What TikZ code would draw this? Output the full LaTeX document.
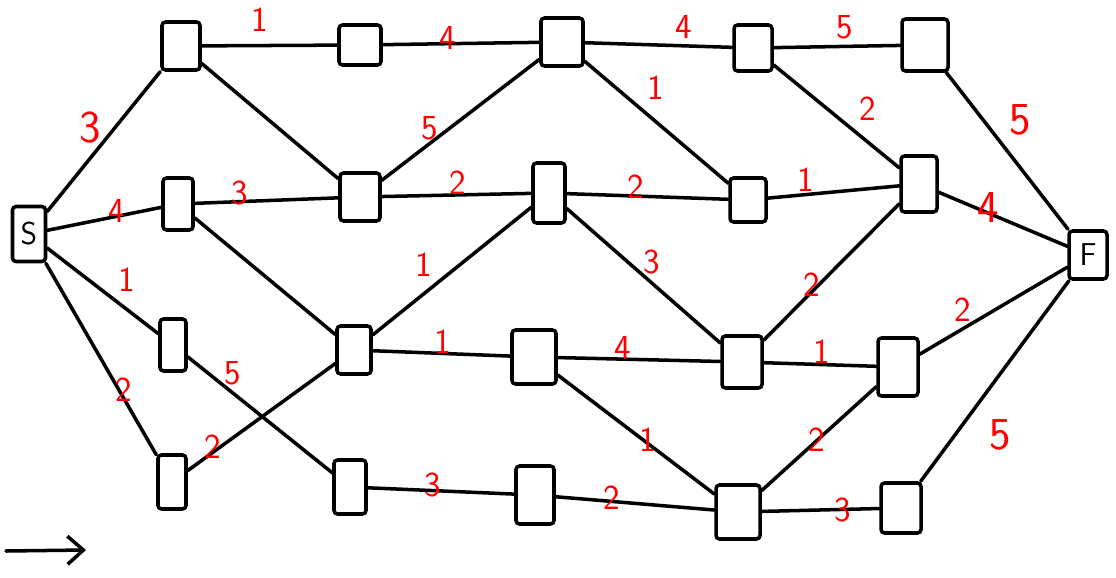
\documentclass[tikz,border=0pt]{standalone}
\usetikzlibrary{arrows.meta}
\begin{document}
\begin{tikzpicture}[x=0.02cm,y=-0.02cm,
  box/.style 2 args={draw, line width=2pt, rounded corners=2pt, inner sep=0pt,
     minimum width=#1*0.02cm, minimum height=#2*0.02cm, font=\sffamily\fontsize{18}{20}\selectfont},
  edge/.style={line width=2pt, line cap=round},
  lbl/.style={text=red, font=\sffamily\fontsize{20}{22}\selectfont, inner sep=0pt},
  biglbl/.style={text=red, font=\sffamily\fontsize{26}{28}\selectfont, inner sep=0pt}]
\useasboundingbox (0,0) rectangle (1116,578);
% nodes
\node[box={33}{55}] (S) at (29,234) {S};
\node[box={38}{48}] (A1) at (181,46) {};
\node[box={42}{40}] (A2) at (360,45) {};
\node[box={42}{48}] (A3) at (562,42) {};
\node[box={38}{46}] (A4) at (753,48) {};
\node[box={46}{52}] (A5) at (925,45) {};
\node[box={30}{52}] (B1) at (178,204) {};
\node[box={40}{48}] (B2) at (360,197) {};
\node[box={32}{60}] (B3) at (549,193) {};
\node[box={36}{44}] (B4) at (748,200) {};
\node[box={36}{56}] (B5) at (919,184) {};
\node[box={26}{52}] (C1) at (173,345) {};
\node[box={34}{48}] (C2) at (354,350) {};
\node[box={44}{54}] (C3) at (534,357) {};
\node[box={40}{52}] (C4) at (742,362) {};
\node[box={40}{58}] (C5) at (898,367) {};
\node[box={28}{54}] (D1) at (172,482) {};
\node[box={32}{54}] (D2) at (350,487) {};
\node[box={38}{58}] (D3) at (535,495) {};
\node[box={44}{54}] (D4) at (738,512) {};
\node[box={40}{50}] (D5) at (901,508) {};
\node[box={38}{48}] (F) at (1088,255) {F};
% edges
\draw[edge] (S) -- (A1);
\draw[edge] (S) -- (B1);
\draw[edge] (S) -- (C1);
\draw[edge] (S) -- (D1);
\draw[edge] (A1) -- (A2);
\draw[edge] (A2) -- (A3);
\draw[edge] (A3) -- (A4);
\draw[edge] (A4) -- (A5);
\draw[edge] (A5) -- (F);
\draw[edge] (A1) -- (B2);
\draw[edge] (B1) -- (B2);
\draw[edge] (B2) -- (A3);
\draw[edge] (B2) -- (B3);
\draw[edge] (A3) -- (B4);
\draw[edge] (B3) -- (B4);
\draw[edge] (A4) -- (B5);
\draw[edge] (B4) -- (B5);
\draw[edge] (B5) -- (F);
\draw[edge] (B1) -- (C2);
\draw[edge] (C2) -- (B3);
\draw[edge] (B3) -- (C4);
\draw[edge] (C4) -- (B5);
\draw[edge] (C2) -- (C3);
\draw[edge] (C3) -- (C4);
\draw[edge] (C4) -- (C5);
\draw[edge] (C5) -- (F);
\draw[edge] (C1) -- (D2);
\draw[edge] (D1) -- (C2);
\draw[edge] (D2) -- (D3);
\draw[edge] (D3) -- (D4);
\draw[edge] (C3) -- (D4);
\draw[edge] (D4) -- (C5);
\draw[edge] (D4) -- (D5);
\draw[edge] (D5) -- (F);
% labels
\node[biglbl] (l1) at (90,128) {3};
\node[lbl] (l2) at (117,211) {4};
\node[lbl] (l3) at (127,280) {1};
\node[lbl] (l4) at (124,390) {2};
\node[lbl] (l5) at (260,20) {1};
\node[lbl] (l6) at (448,38) {4};
\node[lbl] (l7) at (684,27) {4};
\node[lbl] (l8) at (845,27) {5};
\node[biglbl] (l9) at (1020,120) {5};
\node[lbl] (l10) at (240,193) {3};
\node[lbl] (l11) at (430,128) {5};
\node[lbl] (l12) at (458,183) {2};
\node[lbl] (l13) at (656,88) {1};
\node[lbl] (l14) at (636,187) {2};
\node[lbl] (l15) at (868,109) {2};
\node[lbl] (l16) at (806,180) {1};
\node[biglbl] (l17) at (988,208) {4};
\node[lbl] (l18) at (424,265) {1};
\node[lbl] (l19) at (652,262) {3};
\node[lbl] (l20) at (812,285) {2};
\node[lbl] (l21) at (443,342) {1};
\node[lbl] (l22) at (623,348) {4};
\node[lbl] (l23) at (822,352) {1};
\node[lbl] (l24) at (963,310) {2};
\node[lbl] (l25) at (233,373) {5};
\node[lbl] (l26) at (213,447) {2};
\node[lbl] (l27) at (433,485) {3};
\node[lbl] (l28) at (612,498) {2};
\node[lbl] (l29) at (648,440) {1};
\node[lbl] (l30) at (817,440) {2};
\node[lbl] (l31) at (843,510) {3};
\node[biglbl] (l32) at (1000,435) {5};
% arrow
\coordinate (ar1) at (6,551);
\coordinate (ar2) at (86,550);
\draw[edge, -{Straight Barb[length=9pt,width=16pt]}] (ar1) -- (ar2);
\end{tikzpicture}
\end{document}
